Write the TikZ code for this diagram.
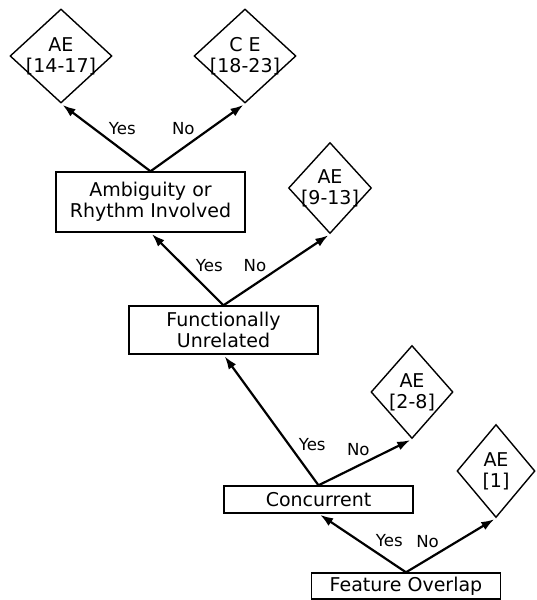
\documentclass[tikz,border=0pt]{standalone}
\usepackage{fontspec}
\setmainfont{DejaVu Sans}
\usetikzlibrary{shapes.geometric,arrows.meta}
\tikzset{
  box/.style={draw, line width=.7pt, minimum width=94.5pt, inner sep=0pt, align=center,
    font=\fontsize{9.5}{10.5}\selectfont},
  leaf/.style={draw, diamond, line width=.7pt, inner sep=0pt},
  leaftxt/.style={align=center, inner sep=0pt, font=\fontsize{9.5}{10.5}\selectfont},
  arr/.style={-{Latex[length=6.5pt,width=4.5pt]}, line width=1.1pt, shorten >=1pt},
  lab/.style={inner sep=1pt, font=\fontsize{8.3}{9}\selectfont}
}
\begin{document}
\begin{tikzpicture}[x=.5pt, y=-.5pt]
  \useasboundingbox (0,0) rectangle (536,600);
  % decision boxes
  \node[box, minimum height=30pt] (ambig) at (150.5,202) {Ambiguity or\\Rhythm Involved};
  \node[box, minimum height=24pt] (func) at (223.5,330) {Functionally\\Unrelated};
  \node[box, minimum height=13.5pt] (conc) at (318.5,499.5) {Concurrent};
  \node[box, minimum height=13pt] (feat) at (406,586) {Feature Overlap};
  % outcomes
  \node[leaf, minimum width=51pt, minimum height=47pt, label={[leaftxt]center:AE\\{}[14-17]}] (ae1) at (61,56) {};
  \node[leaf, minimum width=51pt, minimum height=47pt, label={[leaftxt]center:C E\\{}[18-23]}] (ce) at (245,56) {};
  \node[leaf, minimum width=41.5pt, minimum height=45.5pt, label={[leaftxt]center:AE\\{}[9-13]}] (ae2) at (330,188) {};
  \node[leaf, minimum width=41pt, minimum height=46.5pt, label={[leaftxt]center:AE\\{}[2-8]}] (ae3) at (412,392) {};
  \node[leaf, minimum width=39pt, minimum height=46.5pt, label={[leaftxt]center:AE\\{}[1]}] (ae4) at (496,471) {};
  % branches
  \foreach \src/\dst/\p/\side/\txt in {ambig/ae1/.5/south west/Yes, ambig/ce/.5/south east/No,
      func/ambig/.42/south west/Yes, func/ae2/.43/south east/No,
      conc/func/.24/south west/Yes, conc/ae3/.58/south east/No,
      feat/conc/.38/south west/Yes, feat/ae4/.4/south east/No}
    \draw[arr] (\src.north) -- node[lab, pos=\p, anchor=\side] (l-\src-\dst) {\txt} (\dst.south);
\end{tikzpicture}
\end{document}
